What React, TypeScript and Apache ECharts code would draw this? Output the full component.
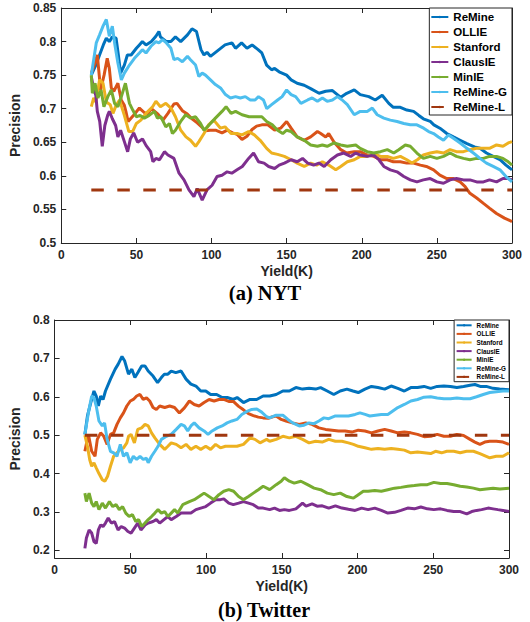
import React, { useEffect, useRef } from 'react';
import * as echarts from 'echarts';

const seriesNames = ['ReMine', 'OLLIE', 'Stanford', 'ClausIE', 'MinIE', 'ReMine-G', 'ReMine-L'];
const seriesColors = ['#0072BD', '#D95319', '#EDB120', '#7E2F8E', '#77AC30', '#4DBEEE', '#A0370F'];
const captions = ['(a) NYT', '(b) Twitter'];
const xTitle = 'Yield(K)';
const yTitle = 'Precision';
const twitterYTicks = [0.2, 0.3, 0.4, 0.5, 0.6, 0.7, 0.8];

// ---------- NYT ----------
const nytReMine = [[20,0.75],[23,0.765],[25.5,0.78],[28,0.795],[30,0.805],[32,0.8],[34,0.807],[36.5,0.805],[38,0.78],[39.5,0.753],[42,0.765],[44,0.78],[46.5,0.78],[50,0.79],[52,0.795],[54,0.8],[56.4,0.795],[60,0.8],[63,0.808],[65,0.815],[66,0.807],[70,0.8],[73,0.8],[76,0.807],[79.5,0.8],[84,0.81],[87,0.819],[90,0.815],[93,0.788],[95,0.78],[97,0.784],[99.3,0.778],[105,0.788],[109,0.795],[113.6,0.798],[116,0.79],[120,0.798],[123.6,0.79],[127,0.795],[131,0.788],[133.5,0.783],[136.7,0.765],[140,0.758],[142,0.76],[145,0.755],[150,0.75],[153,0.743],[157,0.738],[161.7,0.735],[166,0.73],[171.6,0.723],[176,0.726],[180.5,0.727],[186,0.717],[190,0.723],[195,0.728],[199,0.721],[204.7,0.718],[209,0.713],[213.6,0.72],[218,0.708],[221,0.702],[225.7,0.702],[230,0.698],[234.5,0.696],[238,0.69],[241,0.685],[245.6,0.681],[248,0.676],[252,0.671],[256.6,0.663],[261,0.658],[265.5,0.653],[270,0.648],[275,0.643],[278.7,0.641],[283,0.634],[287.5,0.629],[292,0.624],[296,0.616],[300,0.609]];
const nytOllie = [[20,0.753],[22,0.765],[24,0.78],[26.2,0.728],[28.5,0.75],[30.6,0.775],[32,0.76],[33.3,0.731],[35,0.726],[37.7,0.738],[39.9,0.713],[42,0.705],[43,0.696],[44.5,0.681],[48,0.69],[52,0.701],[55.4,0.694],[57.5,0.692],[60,0.7],[64.4,0.692],[67.7,0.683],[71,0.693],[75,0.707],[77,0.708],[80.6,0.697],[83.9,0.692],[87,0.685],[90.5,0.679],[93.8,0.672],[96,0.667],[99,0.668],[102.7,0.668],[107,0.664],[110.5,0.668],[114,0.664],[117,0.662],[120.3,0.654],[123.6,0.659],[127,0.669],[130,0.674],[133.5,0.676],[137.5,0.676],[142,0.668],[146,0.671],[150,0.681],[153,0.671],[157,0.658],[161.7,0.653],[166,0.658],[170.5,0.666],[172.7,0.663],[176,0.658],[178,0.663],[181.6,0.65],[186,0.639],[190,0.634],[195,0.636],[199,0.636],[203.6,0.631],[208,0.629],[212.5,0.624],[217,0.624],[221,0.621],[225.7,0.621],[230,0.619],[234.5,0.619],[239,0.616],[243,0.614],[247.8,0.609],[252,0.601],[256.6,0.596],[261,0.596],[265.5,0.591],[268.8,0.584],[272,0.574],[276.5,0.567],[281,0.559],[285,0.552],[289.7,0.544],[295,0.537],[300,0.532]];
const nytStanford = [[20,0.703],[21.6,0.716],[23,0.71],[25.5,0.743],[27.8,0.738],[30,0.71],[32.6,0.706],[34.4,0.693],[36.5,0.705],[38.8,0.713],[42,0.69],[45,0.666],[47.5,0.666],[50,0.678],[53,0.683],[56.4,0.693],[60.8,0.703],[63,0.711],[66,0.703],[69.6,0.708],[73,0.701],[76,0.688],[79.5,0.668],[83,0.658],[86,0.653],[89.4,0.644],[91.6,0.651],[95,0.663],[98,0.676],[101.5,0.683],[106,0.671],[109,0.673],[113,0.663],[117,0.663],[120.3,0.661],[124.7,0.666],[128.5,0.661],[132.4,0.653],[136.7,0.641],[140,0.634],[144,0.632],[148.5,0.629],[153,0.624],[157,0.619],[161.7,0.614],[166,0.619],[170,0.616],[173.8,0.621],[178,0.616],[182.7,0.609],[186,0.614],[190.4,0.621],[195,0.624],[199,0.629],[203.6,0.629],[208,0.633],[212.5,0.629],[217,0.629],[221,0.626],[225.7,0.629],[230,0.624],[233.4,0.619],[237,0.624],[241,0.631],[245.6,0.634],[250,0.636],[254.4,0.634],[258.8,0.639],[263,0.636],[267.7,0.636],[272,0.639],[276.5,0.641],[281,0.641],[285,0.641],[289.7,0.646],[294,0.644],[297.5,0.649],[300,0.651]];
const nytClausIE = [[20,0.748],[21.5,0.73],[23,0.72],[24,0.696],[25.6,0.681],[27.3,0.644],[29,0.675],[31,0.691],[32,0.696],[34,0.685],[36.2,0.675],[37.7,0.658],[39.5,0.668],[42,0.651],[44.2,0.636],[46,0.655],[48.2,0.664],[50.8,0.65],[54.1,0.655],[56.5,0.645],[59.5,0.636],[61,0.621],[63,0.626],[65.4,0.624],[68.7,0.636],[71,0.631],[75,0.626],[78.4,0.604],[81.7,0.594],[85,0.579],[88.3,0.569],[90.5,0.581],[93.8,0.564],[97,0.579],[100.4,0.586],[103.7,0.599],[107,0.601],[110.4,0.606],[113.5,0.604],[117,0.609],[120.5,0.614],[124.7,0.626],[128,0.634],[131.3,0.621],[135,0.619],[138,0.614],[142,0.611],[145,0.616],[148.5,0.619],[153,0.624],[157,0.621],[160.6,0.626],[164,0.619],[168,0.616],[171.5,0.619],[175,0.614],[179.4,0.624],[183.8,0.631],[188,0.634],[192.6,0.629],[196,0.634],[199,0.631],[203.6,0.629],[208,0.631],[211.4,0.624],[214.7,0.614],[219,0.609],[223.5,0.606],[228,0.599],[232.3,0.594],[236.7,0.591],[241,0.594],[245.6,0.596],[250,0.591],[254.4,0.589],[258.8,0.594],[263,0.596],[267.7,0.594],[272,0.594],[276.5,0.591],[281,0.591],[285,0.594],[289.7,0.591],[294,0.596],[297.5,0.596],[300,0.594]];
const nytMinIE = [[20,0.75],[20.7,0.723],[22.5,0.738],[24.4,0.716],[26.5,0.728],[28.4,0.703],[31,0.718],[33.3,0.728],[35.5,0.708],[37.7,0.703],[40,0.718],[42.7,0.738],[45.4,0.708],[47.6,0.698],[50,0.688],[52.5,0.69],[55.3,0.686],[58.5,0.69],[62,0.696],[64,0.686],[66.3,0.688],[69.6,0.673],[72,0.678],[74,0.663],[76,0.668],[79.5,0.681],[82.8,0.691],[86,0.686],[89.4,0.688],[92.7,0.678],[95,0.668],[98.5,0.676],[102.6,0.686],[107,0.696],[109.7,0.703],[113,0.693],[116,0.696],[120.3,0.691],[125,0.688],[129,0.688],[133.5,0.688],[136.7,0.681],[140.5,0.676],[144,0.668],[147.4,0.663],[150,0.668],[153,0.666],[157,0.658],[161.7,0.653],[166,0.646],[170.5,0.644],[173.8,0.646],[177,0.644],[181.6,0.649],[186,0.646],[190.4,0.644],[196,0.646],[199,0.641],[203.6,0.636],[208,0.634],[212.5,0.636],[217,0.639],[221.3,0.634],[224.6,0.639],[229,0.646],[232.3,0.644],[236.7,0.634],[241,0.626],[245.6,0.629],[250,0.626],[254.4,0.629],[258.8,0.634],[263,0.629],[267.7,0.626],[272,0.624],[276.5,0.626],[281,0.626],[285,0.629],[289.7,0.629],[294,0.626],[297.5,0.621],[300,0.616]];
const nytReMineG = [[20,0.75],[23.3,0.798],[25.5,0.81],[27.8,0.823],[30,0.833],[32,0.808],[34,0.823],[35.5,0.798],[37.7,0.768],[40,0.743],[42,0.753],[45.4,0.765],[48.7,0.775],[52,0.783],[54,0.788],[56.4,0.783],[59.7,0.793],[63,0.8],[65,0.798],[67.4,0.803],[70,0.798],[73,0.79],[75,0.773],[77.5,0.775],[80.6,0.77],[84,0.778],[86,0.773],[89.4,0.765],[91.6,0.748],[93.8,0.753],[96,0.75],[99.3,0.743],[102.6,0.736],[106,0.731],[109.3,0.721],[112.6,0.716],[116,0.718],[119.2,0.716],[122.5,0.718],[125.8,0.713],[129,0.713],[131.3,0.718],[134.6,0.713],[136.8,0.7],[140,0.706],[144,0.713],[147,0.718],[150,0.728],[153,0.721],[156,0.718],[159.5,0.708],[164,0.713],[167,0.716],[170.5,0.711],[173.8,0.716],[177,0.711],[180.5,0.713],[183.8,0.718],[187,0.713],[190.4,0.706],[195,0.691],[199,0.696],[203.6,0.696],[207,0.701],[210.3,0.691],[214.7,0.686],[219,0.683],[223.5,0.681],[228,0.678],[232.3,0.676],[236.7,0.676],[241.2,0.671],[244.5,0.666],[247.8,0.663],[251,0.658],[254.4,0.653],[257.7,0.661],[261,0.656],[265.5,0.649],[270,0.641],[274.3,0.634],[278.7,0.626],[283,0.619],[287.5,0.614],[292,0.609],[296,0.599],[300,0.591]];
const nytReMineL = [[20,0.579],[300,0.579]];

// ---------- Twitter ----------
const twReMine = [[20,0.502],[21.7,0.55],[23.9,0.585],[26,0.615],[27.5,0.602],[28.9,0.576],[30.4,0.602],[32,0.593],[33.6,0.615],[36.9,0.646],[40,0.672],[42,0.685],[44.5,0.705],[46.2,0.694],[48.8,0.659],[51,0.672],[53,0.65],[55,0.663],[57.5,0.68],[59.7,0.68],[61.8,0.667],[65,0.654],[68,0.637],[70.5,0.65],[72.5,0.659],[74.8,0.659],[77,0.667],[80,0.663],[83.5,0.667],[86.8,0.646],[90,0.633],[93.3,0.628],[96.5,0.615],[99.8,0.615],[103,0.606],[107,0.606],[110.6,0.598],[114,0.598],[118,0.593],[120.5,0.598],[124.7,0.585],[129,0.593],[133.4,0.593],[137.7,0.602],[142,0.602],[146.3,0.606],[150.7,0.615],[155,0.615],[159.3,0.624],[163.7,0.62],[168,0.622],[172.3,0.62],[175.6,0.624],[180,0.615],[184.3,0.606],[188.6,0.615],[193,0.62],[197,0.615],[200.5,0.611],[204.9,0.62],[209.2,0.627],[213.5,0.624],[217.9,0.62],[222.2,0.628],[226.6,0.622],[230.9,0.615],[235.2,0.624],[239.6,0.624],[243.9,0.627],[248.3,0.622],[252.6,0.627],[257,0.628],[261.3,0.627],[265.6,0.624],[270,0.627],[274.3,0.63],[277.5,0.632],[281,0.627],[285,0.627],[289.5,0.622],[293.8,0.62],[300,0.618]];
const twOllie = [[20,0.458],[22.3,0.502],[24.5,0.458],[26.7,0.445],[28.2,0.489],[30.4,0.506],[32.5,0.497],[34.7,0.476],[36.9,0.502],[39,0.506],[41.2,0.528],[43.4,0.545],[45.5,0.558],[47.7,0.576],[50,0.589],[52,0.593],[54.2,0.602],[56.4,0.606],[58.5,0.593],[60.7,0.597],[62.8,0.589],[65,0.572],[67.2,0.567],[69.4,0.576],[72.7,0.572],[76,0.576],[79.2,0.572],[82.4,0.558],[85.7,0.571],[89,0.589],[92.2,0.58],[95.4,0.576],[98.7,0.585],[102,0.593],[105.3,0.589],[108.5,0.593],[111.7,0.593],[115,0.588],[118,0.588],[121.5,0.575],[124.7,0.566],[128,0.556],[131.2,0.551],[134.5,0.547],[137.7,0.545],[141,0.544],[144,0.548],[146.3,0.55],[149.6,0.541],[152.8,0.537],[157,0.532],[161.5,0.528],[165.8,0.532],[170,0.528],[174.5,0.519],[178.9,0.515],[183.2,0.513],[187.5,0.511],[191.8,0.511],[196.2,0.508],[200.5,0.513],[204.9,0.511],[209.2,0.506],[213.5,0.511],[217.9,0.515],[222.2,0.511],[226.6,0.506],[230.9,0.508],[235.2,0.506],[239.6,0.502],[244,0.496],[248.3,0.497],[252.6,0.502],[257,0.497],[261.3,0.497],[265.6,0.502],[270,0.499],[274.3,0.489],[277.5,0.482],[280.8,0.476],[284,0.482],[287.3,0.484],[291.6,0.484],[296,0.482],[300,0.476]];
const twStanford = [[20,0.5],[21.7,0.471],[23.2,0.436],[24.5,0.419],[26,0.428],[27.5,0.415],[29.3,0.4],[31.5,0.384],[33.2,0.38],[35,0.393],[36.9,0.419],[39,0.445],[41.2,0.454],[43.4,0.463],[45.5,0.467],[47.7,0.48],[48.8,0.497],[50.5,0.502],[52.7,0.48],[54.9,0.515],[57.5,0.519],[59.7,0.528],[61.8,0.524],[64,0.506],[66.2,0.493],[69.4,0.476],[72.7,0.463],[74.8,0.471],[77,0.48],[80.3,0.476],[83.5,0.467],[86.8,0.476],[90,0.463],[93.3,0.471],[96.5,0.463],[99.8,0.471],[103,0.463],[106.3,0.476],[109.5,0.467],[112.8,0.471],[116,0.471],[120.4,0.471],[124.7,0.476],[129,0.493],[132.3,0.489],[135.6,0.48],[140,0.489],[142,0.484],[146.3,0.489],[150.7,0.497],[155,0.493],[159.3,0.497],[163.7,0.489],[168,0.48],[172.3,0.484],[176.7,0.482],[181,0.489],[185.4,0.484],[189.7,0.484],[194,0.48],[197.3,0.476],[200.5,0.471],[204.9,0.467],[209.2,0.463],[213.5,0.465],[217.9,0.463],[222.2,0.465],[226.6,0.463],[230.9,0.461],[235.2,0.454],[239.6,0.456],[244,0.454],[248.3,0.452],[251.5,0.458],[255.5,0.454],[259,0.458],[263.5,0.458],[267.8,0.454],[272,0.458],[276.5,0.458],[280.8,0.452],[285,0.445],[287.3,0.441],[291.6,0.445],[296,0.445],[300,0.454]];
const twClausIE = [[20,0.205],[21,0.232],[22.8,0.253],[24.5,0.245],[26,0.223],[27.5,0.218],[28.9,0.253],[30.4,0.266],[32,0.262],[33.6,0.271],[35.4,0.284],[37.5,0.271],[39.6,0.275],[41.9,0.253],[44,0.262],[46.2,0.258],[48.4,0.249],[50.5,0.245],[52.7,0.258],[54.9,0.271],[57,0.253],[59.7,0.266],[61.8,0.271],[65,0.275],[67.2,0.28],[69.4,0.271],[72.2,0.28],[74.8,0.288],[77,0.28],[80.3,0.288],[83.5,0.297],[86.8,0.297],[90,0.297],[93.3,0.306],[96.5,0.31],[99.8,0.314],[103,0.323],[106.3,0.332],[109.5,0.332],[111.7,0.334],[115,0.323],[118,0.319],[121.5,0.323],[124.7,0.327],[128,0.323],[131.2,0.319],[134.5,0.31],[137.7,0.31],[142,0.306],[145.2,0.31],[148.5,0.304],[151.7,0.306],[155,0.304],[159.3,0.308],[163.7,0.323],[166,0.315],[170,0.321],[173.3,0.315],[176.7,0.316],[181,0.31],[185.4,0.316],[189.7,0.31],[194,0.307],[198.4,0.304],[202.7,0.31],[207,0.306],[211.4,0.31],[215.7,0.304],[220,0.297],[224.4,0.299],[228.7,0.304],[233.1,0.31],[237.5,0.308],[241.8,0.313],[246.1,0.308],[250.4,0.306],[254.8,0.308],[259.1,0.304],[263.5,0.301],[267.8,0.301],[272.1,0.295],[275.4,0.301],[278.6,0.304],[281.9,0.306],[286.2,0.31],[289.5,0.308],[292.7,0.306],[296,0.304],[300,0.301]];
const twMinIE = [[20,0.349],[21,0.327],[22.8,0.349],[24.5,0.323],[26,0.314],[27.5,0.327],[29.3,0.306],[31.5,0.323],[33.6,0.31],[36.2,0.327],[38.4,0.314],[40.6,0.319],[42.7,0.306],[44.9,0.314],[47,0.297],[49.2,0.288],[51.4,0.293],[53.6,0.275],[55.5,0.28],[57.5,0.262],[59.7,0.271],[61.8,0.28],[64,0.288],[66.2,0.297],[68.3,0.306],[70.5,0.297],[72.7,0.301],[74.8,0.288],[77,0.297],[79.2,0.306],[81.3,0.297],[84.6,0.319],[86.8,0.323],[89,0.327],[92.2,0.332],[95.4,0.34],[98.7,0.349],[102,0.34],[105.2,0.332],[108.5,0.345],[111.7,0.354],[115,0.358],[118.2,0.354],[121.5,0.34],[124.7,0.332],[128,0.34],[131.2,0.349],[134.5,0.358],[137.7,0.367],[142,0.358],[146.3,0.371],[149.6,0.38],[151.7,0.389],[155,0.38],[158.2,0.375],[162.6,0.38],[167,0.371],[171.3,0.362],[175.6,0.358],[180,0.349],[184.3,0.345],[188.6,0.349],[193,0.34],[197.3,0.336],[200.5,0.345],[203.8,0.354],[207,0.354],[211.4,0.356],[215.7,0.354],[220,0.358],[224.4,0.362],[228.7,0.364],[233.1,0.367],[237.5,0.369],[241.8,0.371],[246.1,0.371],[250.4,0.377],[254.8,0.374],[259.1,0.374],[263.5,0.371],[267.8,0.367],[272.1,0.365],[276.5,0.362],[280.8,0.358],[285,0.36],[289.5,0.362],[294,0.36],[300,0.362]];
const twReMineG = [[20,0.502],[22.3,0.558],[24.5,0.602],[26,0.597],[27.5,0.576],[29.3,0.537],[31.5,0.524],[33,0.532],[34.7,0.489],[36.9,0.458],[39,0.454],[41.2,0.445],[43.4,0.476],[45.5,0.445],[47.7,0.454],[49.9,0.428],[52,0.445],[54.2,0.437],[56.4,0.445],[58.5,0.437],[60.7,0.44],[61.8,0.428],[64,0.445],[66.2,0.458],[68.3,0.471],[70.5,0.489],[73.8,0.497],[77,0.502],[80.3,0.515],[83.5,0.528],[85.7,0.524],[87.9,0.511],[90,0.524],[92.2,0.532],[95.4,0.519],[98.7,0.511],[101.3,0.502],[104,0.511],[107.4,0.519],[110.6,0.524],[113.9,0.532],[117.1,0.537],[120.4,0.541],[123.6,0.554],[127,0.562],[130.2,0.567],[133.5,0.568],[136.7,0.56],[140,0.548],[142,0.545],[146.3,0.552],[150.7,0.552],[154,0.541],[157.2,0.532],[161.5,0.524],[164.7,0.526],[168,0.532],[171.3,0.53],[174.5,0.537],[177.8,0.545],[181,0.543],[185.4,0.55],[189.7,0.55],[194,0.55],[198.4,0.554],[201.6,0.558],[205,0.554],[208.1,0.55],[211.9,0.552],[215.7,0.554],[220,0.554],[223.3,0.563],[226.6,0.572],[230.9,0.58],[235.2,0.589],[239.6,0.593],[243.9,0.599],[248.3,0.6],[252.6,0.597],[257,0.595],[261.3,0.595],[265.6,0.597],[270,0.595],[274.3,0.595],[278.6,0.6],[283,0.606],[287.3,0.611],[291.6,0.613],[296,0.615],[300,0.615]];
const twReMineL = [[20,0.5],[300,0.5]];

const nytData = [nytReMine, nytOllie, nytStanford, nytClausIE, nytMinIE, nytReMineG, nytReMineL];
const twData = [twReMine, twOllie, twStanford, twClausIE, twMinIE, twReMineG, twReMineL];

const SANS = "'Liberation Sans', Arial, Helvetica, sans-serif";
const SERIF = "'Liberation Serif', 'Times New Roman', serif";
const AX = '#262626';

function xAxis(gridIndex: number, position: string, main: boolean) {
  return {
    type: 'value', gridIndex, position, min: 0, max: 300, interval: 50,
    axisLine: { show: true, onZero: false, lineStyle: { color: AX, width: 1 } },
    axisTick: { show: true, inside: true, length: 5, lineStyle: { color: AX, width: 1 } },
    axisLabel: { show: main, margin: 6, fontSize: 12, fontWeight: 'bold', color: AX, fontFamily: SANS },
    splitLine: { show: false },
    name: main ? xTitle : '', nameLocation: 'middle', nameGap: 21,
    nameTextStyle: { fontSize: 14, fontWeight: 'bold', color: AX, fontFamily: SANS },
  };
}

function yAxis(gridIndex: number, position: string, main: boolean, range: any, nameGap: number) {
  return {
    type: 'value', gridIndex, position, ...range.base,
    axisLine: { show: true, onZero: false, lineStyle: { color: AX, width: 1 } },
    axisTick: { show: true, inside: true, length: 5, lineStyle: { color: AX, width: 1 }, ...(range.ticks ? { customValues: range.ticks } : {}) },
    axisLabel: { show: main, margin: 5, fontSize: 12, fontWeight: 'bold', color: AX, fontFamily: SANS, ...(range.ticks ? { customValues: range.ticks } : {}) },
    splitLine: { show: false },
    name: main ? yTitle : '', nameLocation: 'middle', nameGap,
    nameTextStyle: { fontSize: 14, fontWeight: 'bold', color: AX, fontFamily: SANS },
  };
}

function makeSeries(data: number[][][], axisIdx: number) {
  return data.map((d, i) => ({
    type: 'line', name: seriesNames[i], data: d,
    xAxisIndex: axisIdx, yAxisIndex: axisIdx,
    showSymbol: false, symbol: 'none', clip: true,
    color: seriesColors[i],
    lineStyle: { color: seriesColors[i], width: 3, type: i === 6 ? [12.5, 13.5] : 'solid' },
    z: 2 + i,
  }));
}

function legend(right: number, top: number, fontSize: number, lineHeight: number, itemWidth: number, padding: number[]) {
  return {
    data: seriesNames, orient: 'vertical', right, top, itemWidth, itemHeight: 3, itemGap: 0,
    padding, borderColor: AX, borderWidth: 1, backgroundColor: '#fff', selectedMode: false,
    textStyle: { fontSize, fontWeight: 'bold', color: '#000', fontFamily: SANS, lineHeight },
  };
}

export default function App() {
  const ref = useRef<HTMLDivElement>(null);
  useEffect(() => {
    if (!ref.current) return;
    const chart = echarts.init(ref.current, null, { renderer: 'svg' });
    const nytRange = { base: { min: 0.5, max: 0.85, interval: 0.05 } };
    const twRange = { base: { min: 0.18, max: 0.8 }, ticks: twitterYTicks };
    chart.setOption({
      animation: false,
      backgroundColor: '#fff',
      grid: [
        { left: 58, top: 8, width: 454, height: 235 },
        { left: 48, top: 320, width: 461, height: 238 },
      ],
      xAxis: [xAxis(0, 'bottom', true), xAxis(1, 'bottom', true), xAxis(0, 'top', false), xAxis(1, 'top', false)],
      yAxis: [yAxis(0, 'left', true, nytRange, 28), yAxis(1, 'left', true, twRange, 23), yAxis(0, 'right', false, nytRange, 0), yAxis(1, 'right', false, twRange, 0)],
      legend: [
        legend(18, 8, 11.5, 15, 17, [1.5, 5, 0.5, 1]),
        legend(21, 320, 6.3, 8.6, 15, [1, 3, 0.5, 1.5]),
      ],
      series: [...makeSeries(nytData, 0), ...makeSeries(twData, 1)],
      graphic: [
        { type: 'text', x: 265, y: 293, style: { text: captions[0], fontSize: 20.5, fontWeight: 'bold', fontFamily: SERIF, fill: '#000', align: 'center', verticalAlign: 'middle' } },
        { type: 'text', x: 264, y: 610, style: { text: captions[1], fontSize: 20, fontWeight: 'bold', fontFamily: SERIF, fill: '#000', align: 'center', verticalAlign: 'middle' } },
      ],
    });
    return () => chart.dispose();
  }, []);
  return <div ref={ref} style={{ position: 'fixed', left: 0, top: 0, width: 530, height: 622 }} />;
}
